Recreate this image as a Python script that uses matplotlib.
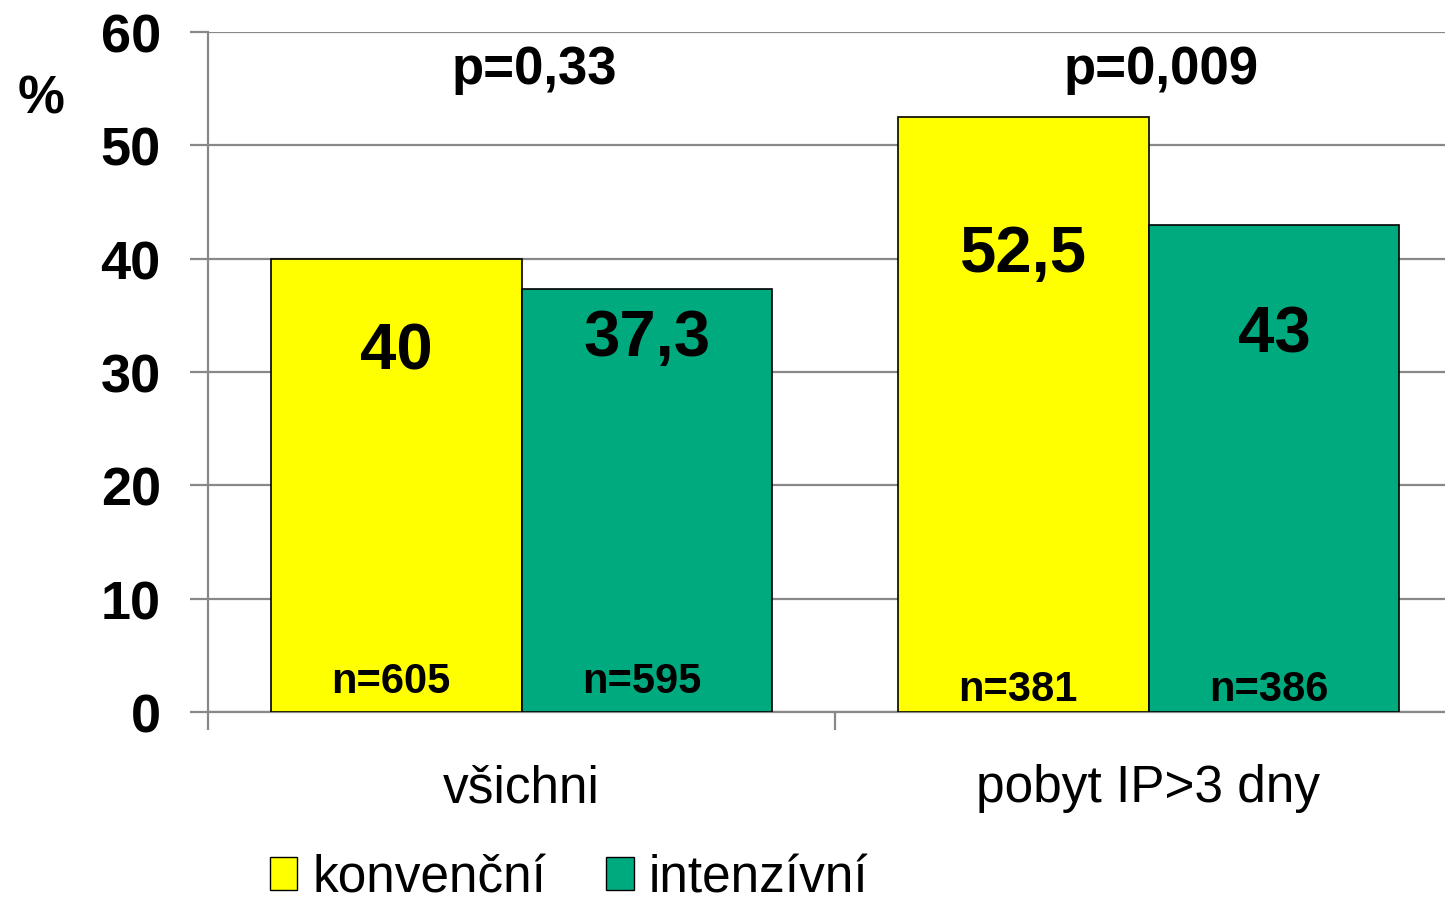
import matplotlib
matplotlib.use("Agg")
import matplotlib.pyplot as plt
from matplotlib.patches import Patch
import numpy as np

# data
categories = ["všichni", "pobyt IP>3 dny"]
series_names = ["konvenční", "intenzívní"]
konvencni = [40, 52.5]
intenzivni = [37.3, 43]
value_labels = [["40", "52,5"], ["37,3", "43"]]
n_labels = [["n=605", "n=381"], ["n=595", "n=386"]]
p_labels = ["p=0,33", "p=0,009"]
yticks = [0, 10, 20, 30, 40, 50, 60]

# text placement (layout only)
value_label_y = [[31.8, 40.4], [33.0, 33.3]]
n_label_y = [2.75, 2.05]

colors = ["#FFFF00", "#00AA7F"]
grid_col = "#888888"
num_font = ["Liberation Sans", "DejaVu Sans"]
txt_font = ["Liberation Sans", "DejaVu Sans"]

fig = plt.figure(figsize=(14.45, 9.04), dpi=100)
ax = fig.add_axes([208 / 1445, 1 - 713 / 904, 1 - 208 / 1445, (713 - 33) / 904])

x = np.arange(len(categories))
w = 0.4
for i, vals in enumerate([konvencni, intenzivni]):
    xs = x + (i - 0.5) * w
    ax.bar(xs, vals, width=w, color=colors[i], edgecolor="black", linewidth=1.2, zorder=3)
    for j, xv in enumerate(xs):
        ax.text(xv, value_label_y[i][j], value_labels[i][j], ha="center", va="center",
                fontsize=47, fontweight="bold", family=num_font, zorder=4)
        ax.text(xv - 0.008, n_label_y[j], n_labels[i][j], ha="center", va="center",
                fontsize=30, fontweight="bold", family=num_font, zorder=4)

for j, p in enumerate(p_labels):
    ax.text(x[j] + 0.02, 56.7, p, ha="center", va="center", fontsize=38,
            fontweight="bold", family=num_font)

ax.set_ylim(0, 60)
ax.set_xlim(-0.5, (1445 - 208) / 627 - 0.5)
ax.set_yticks(yticks)
ax.set_yticklabels([str(t) for t in yticks], fontsize=39, fontweight="bold", family=num_font)
ax.yaxis.grid(True, color=grid_col, linewidth=1.6, zorder=0)
ax.set_axisbelow(True)

ax.set_xticks([-0.5, 0.5])
ax.set_xticklabels([])
ax.set_xticks(x, minor=True)
ax.set_xticklabels(categories, minor=True, fontsize=37, family=txt_font)
ax.tick_params(axis="x", which="minor", length=0, pad=37)
ax.tick_params(axis="both", which="major", length=13, width=1.6, color=grid_col, direction="out")
ax.tick_params(axis="y", pad=21)

for s in ["top", "right"]:
    ax.spines[s].set_visible(False)
for s in ["left", "bottom"]:
    ax.spines[s].set_color(grid_col)
    ax.spines[s].set_linewidth(1.6)

fig.text(18 / 1445, 1 - 100 / 904, "%", fontsize=38, fontweight="bold", family=num_font,
         ha="left", va="center")

handles = [Patch(facecolor=c, edgecolor="black", linewidth=1.0) for c in colors]
fig.legend(handles, series_names, loc="center left", bbox_to_anchor=(244 / 1445, 1 - 879 / 904),
           ncol=2, frameon=False, prop={"family": txt_font, "size": 37}, borderpad=0,
           handlelength=0.54, handleheight=0.6, handletextpad=0.3, columnspacing=1.15)

fig.savefig("out.png", dpi=100)
